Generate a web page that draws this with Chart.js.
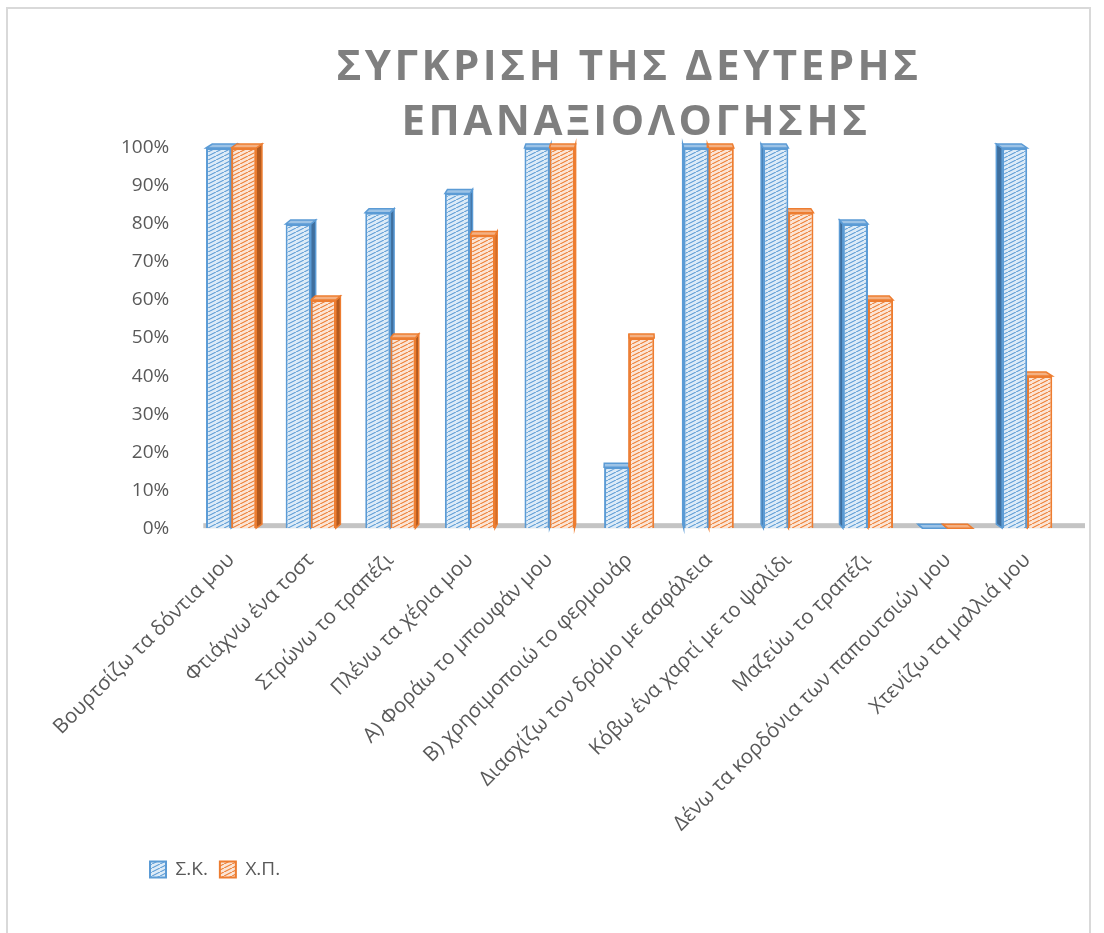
<!DOCTYPE html>
<html>
<head>
<meta charset="utf-8">
<script src="https://cdn.jsdelivr.net/npm/chart.js@4.4.1/dist/chart.umd.min.js"></script>
<style>
    html, body { margin: 0; padding: 0; background: #fff; }
    #marco { width: 1104px; height: 933px; position: relative; }
</style>
</head>
<body>
<div id="marco"><canvas id="grafico" width="1104" height="933"></canvas></div>
<script>
const tareas = [
    'Βουρτσίζω τα δόντια μου',
    'Φτιάχνω ένα τοστ',
    'Στρώνω το τραπέζι',
    'Πλένω τα χέρια μου',
    'Α) Φοράω το μπουφάν μου',
    'Β) χρησιμοποιώ το φερμουάρ',
    'Διασχίζω τον δρόμο με ασφάλεια',
    'Κόβω ένα χαρτί με το ψαλίδι',
    'Μαζεύω το τραπέζι',
    'Δένω τα κορδόνια των παπουτσιών μου',
    'Χτενίζω τα μαλλιά μου'
];
const valoresSK = [100, 80, 83, 88, 100, 16, 100, 100, 80, 0, 100];
const valoresXP = [100, 60, 50, 77, 100, 50, 100, 83, 60, 0, 40];
const marcasY = ['0%', '10%', '20%', '30%', '40%', '50%', '60%', '70%', '80%', '90%', '100%'];
const titulo = ['ΣΥΓΚΡΙΣΗ ΤΗΣ ΔΕΥΤΕΡΗΣ', 'ΕΠΑΝΑΞΙΟΛΟΓΗΣΗΣ'];

const FUENTE = '"Open Sans", "Noto Sans", sans-serif';
const GRIS = '#595959';

// rayado diagonal ascendente sobre fondo claro
function trama(fondo, linea) {
    const c = document.createElement('canvas');
    c.width = 8;
    c.height = 4;
    const g = c.getContext('2d');
    g.fillStyle = fondo;
    g.fillRect(0, 0, 8, 4);
    g.strokeStyle = linea;
    g.lineWidth = 1.1;
    g.beginPath();
    g.moveTo(-2, 5);
    g.lineTo(10, -1);
    g.stroke();
    return g.createPattern(c, 'repeat');
}

const estilos = [
    { borde: '#5b9bd5', lado: '#3f6f9e', tapa: '#9dc3e6' },
    { borde: '#ed7d31', lado: '#b35a1f', tapa: '#f4b183' }
];

// caras laterales, tapas y suelo para dar el aspecto 3D
const profundidad = {
    id: 'profundidad',
    beforeDatasetsDraw(chart) {
        const { ctx, chartArea } = chart;
        const y0 = chart.scales.y.getPixelForValue(0);
        ctx.save();
        ctx.fillStyle = '#c4c4c4';
        ctx.fillRect(chartArea.left + 12, y0 - 5, chartArea.right - chartArea.left + 6, 5);
        const centro = (chartArea.left + chartArea.right) / 2;
        chart.data.datasets.forEach((ds, i) => {
            const est = estilos[i];
            chart.getDatasetMeta(i).data.forEach(barra => {
                const { x, y, base, width } = barra.getProps(['x', 'y', 'base', 'width'], true);
                const dx = 0.015 * (centro - x);
                const dy = -4;
                const izq = x - width / 2;
                const der = x + width / 2;
                const borde = dx >= 0 ? der : izq;
                ctx.lineWidth = 1.5;
                ctx.strokeStyle = est.borde;
                ctx.fillStyle = est.lado;
                ctx.beginPath();
                ctx.moveTo(borde, y);
                ctx.lineTo(borde + dx, y + dy);
                ctx.lineTo(borde + dx, base + dy);
                ctx.lineTo(borde, base);
                ctx.closePath();
                ctx.fill();
                ctx.stroke();
                ctx.fillStyle = est.tapa;
                ctx.beginPath();
                ctx.moveTo(izq, y);
                ctx.lineTo(izq + dx, y + dy);
                ctx.lineTo(der + dx, y + dy);
                ctx.lineTo(der, y);
                ctx.closePath();
                ctx.fill();
                ctx.stroke();
            });
        });
        ctx.restore();
    }
};

const marcoYTitulo = {
    id: 'marcoYTitulo',
    afterLayout(chart) {
        chart.legend.left += 31;
    },
    afterDraw(chart) {
        const { ctx } = chart;
        ctx.save();
        ctx.strokeStyle = '#d9d9d9';
        ctx.lineWidth = 2;
        ctx.strokeRect(7, 8, 1083, 940);
        ctx.fillStyle = '#7f7f7f';
        ctx.font = 'bold 42px ' + FUENTE;
        ctx.letterSpacing = '3.5px';
        ctx.textAlign = 'center';
        ctx.textBaseline = 'alphabetic';
        ctx.fillText(titulo[0], 629, 80);
        ctx.fillText(titulo[1], 636, 135);
        ctx.restore();
    }
};

new Chart(document.getElementById('grafico').getContext('2d'), {
    type: 'bar',
    data: {
        labels: tareas,
        datasets: [
            {
                label: 'Σ.Κ.',
                data: valoresSK,
                backgroundColor: trama('#ddebf7', '#5b9bd5'),
                borderColor: '#5b9bd5',
                borderWidth: 2
            },
            {
                label: 'Χ.Π.',
                data: valoresXP,
                backgroundColor: trama('#fbe5d6', '#ed7d31'),
                borderColor: '#ed7d31',
                borderWidth: 2
            }
        ]
    },
    options: {
        responsive: false,
        animation: false,
        layout: { padding: { top: 148, left: 107, right: 37, bottom: 44 } },
        datasets: {
            bar: { categoryPercentage: 0.63, barPercentage: 1 }
        },
        scales: {
            x: {
                grid: { display: false },
                border: { display: false },
                ticks: {
                    color: GRIS,
                    font: { family: FUENTE, size: 20.5 },
                    minRotation: 45,
                    maxRotation: 45,
                    padding: 12,
                    autoSkip: false
                }
            },
            y: {
                min: 0,
                max: 100,
                grid: { display: false },
                border: { display: false },
                ticks: {
                    stepSize: 10,
                    color: GRIS,
                    font: { family: FUENTE, size: 19 },
                    padding: 14,
                    callback: (v, i) => marcasY[i]
                }
            }
        },
        plugins: {
            title: { display: false },
            tooltip: { enabled: false },
            legend: {
                position: 'bottom',
                align: 'start',
                labels: {
                    color: GRIS,
                    font: { family: FUENTE, size: 19 },
                    boxWidth: 16,
                    boxHeight: 16,
                    padding: 12
                }
            }
        }
    },
    plugins: [profundidad, marcoYTitulo]
});
</script>
</body>
</html>
